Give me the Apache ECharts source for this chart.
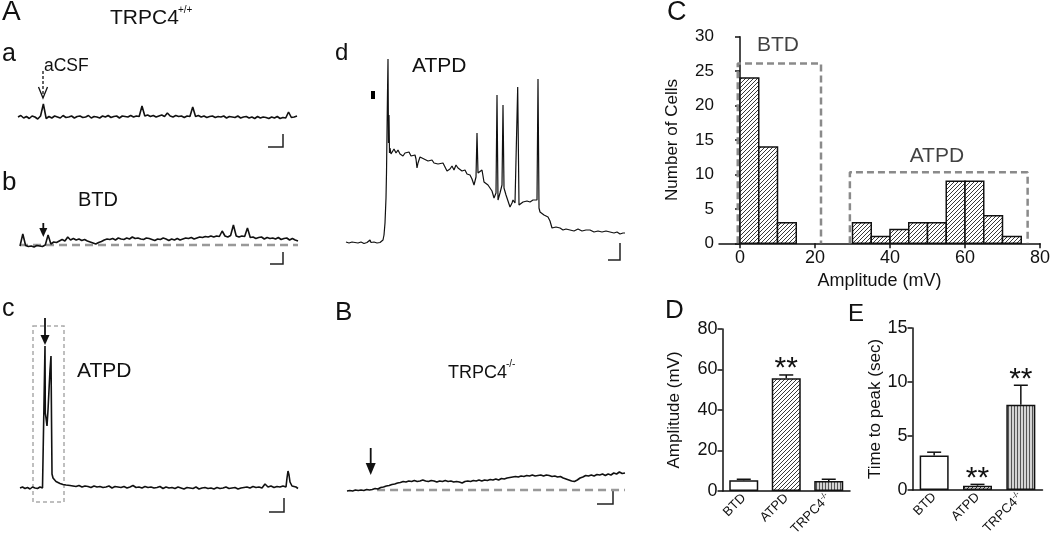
<!DOCTYPE html>
<html><head><meta charset="utf-8">
<script src="https://cdn.jsdelivr.net/npm/echarts@6/dist/echarts.min.js"></script>
<style>html,body{margin:0;padding:0;background:#fff}#c{width:1050px;height:540px}</style>
</head><body><div id="c"></div>
<script>
const FF = '"Liberation Sans", Arial, Helvetica, sans-serif';

// ---------------- DATA ----------------
// Trace a (aCSF, TRPC4+/+), relative potential, uniform samples
const traceA = [
0,1.5,-1,0.5,-1.5,1,0,-2,1,13,
-1.5,0.5,-1,1,0,-1,1.5,-0.5,0,1,
-1,0.5,1,-0.5,0,1.5,-1,0.5,0,-1,
1,0,1.5,-0.5,0.5,1,-1,1,0.5,0,
1.5,0,1,0.5,11,1,2,0.5,1.5,0,
1,2,0.5,4,1,0,1.5,0.5,1,-0.5,
1,0.5,10,0.5,1.5,0,1,-0.5,0.5,1,
-0.5,0.5,0,1,-1,0.5,0,-0.5,1,-1,
0,0.5,-1,0,-1.5,0.5,-1,0,-0.5,-1.5,
0,-1,0.5,-1.5,-0.5,-1,5,-0.5,0,1];
// Trace b (BTD)
const traceB = [
0,12,0.5,-0.5,0,-1,0.5,0,-0.5,1,
11,2,4,3.5,5,6.5,5,9,6,7.5,
6,7,5.5,6.5,5,4,3,2,3.5,4.5,
6,7,6.5,7.5,6,8,7,6.5,8,7,
9,7.5,8,7,6.5,8,7.5,6.5,5.5,7,
6.5,8,7,5.5,7,6,7.5,6,7,8,
7.5,8.5,7,8,9,8.5,9.5,9,10,9,
10,9.5,15,10,9,10.5,21,10,9,10,
9.5,18,8.5,9,7.5,8.5,9,7,8.5,7.5,
8,7,8.5,6.5,7.5,8,6,7.5,6,5];
const baselineB = [[0,1],[99,1]];
// Trace c (ATPD, TRPC4+/+) [time, potential]
const traceC = [
[0,0],[2.5,1],[5,-0.5],[7.5,0.5],[10,-1],[12.5,1],[15,0],[17.5,-0.5],[20,1],[22.5,0],[24.5,0.5],
[25,142],[25.3,75],[26,70],[27,62],[28,78],[29,98],[30,118],[31,132],[31.5,70],[32,14],[33,10],[34,8],[36,6.5],[38,5],[40,4.5],[43,3.5],[46,3],[50,2.5],
[53,2],[56,1.5],[59,2.5],[62,1],[65,2],[68,1.5],[71,0.5],[74,2],[77,1],[80,1.5],
[83,0.5],[86,1],[89,2],[92,0],[95,1.5],[98,1],[101,0.5],[104,1.5],[107,0],[110,1],
[113,2.5],[116,0.5],[119,1],[122,0],[125,1.5],[128,0.5],[131,1],[134,0],[137,0.5],[140,1.5],
[143,-0.5],[146,1],[149,0],[152,0.5],[155,-0.5],[158,1],[161,0],[164,-1],[167,0.5],[170,0],
[173,-0.5],[176,1],[179,-1],[182,0],[185,0.5],[188,-0.5],[191,0],[194,-1],[197,0.5],[200,-0.5],
[203,0],[206,1],[209,-0.5],[212,0],[215,0.5],[218,-1],[221,0],[224,0.5],[227,1],[230,0],
[233,1.5],[236,0.5],[239,1],[242,0],[245,4],[248,1],[251,2],[254,0.5],[257,1.5],[260,1],
[263,2],[266,1],[267,10],[268,17],[269,13],[270,6],[271,8],[272,2],[274,0],[276,1],[278,-0.5]];
// Trace d (ATPD with spikes) [time, potential]
const traceD = [
[0,1],[3,0],[6,1],[9,0.5],[12,0],[15,1],[18,-0.5],[21,0.5],[24,3],[25,0.5],[28,1],[31,0],[34,0.5],[36,1],
[37,3],[38,8],[39,20],[40,45],[40.5,70],[41,110],[41.5,150],[42,184],[42.5,100],[43,128],[43.5,90],[44,95],[45,89],
[46,91],[48,94],[50,90],[52,93],[54,89],[56,91],[57,87],[59,90],[61,88],[63,91],[65,87],[67,86],[69,88],[70,84],
[71,75],[72,80],[74,86],[76,88],[78,84],[80,86],[82,82],[84,81],[86,83],[88,80],[90,82],[92,79],[94,81],[97,80],
[99,76],[101,72],[102,70],[104,74],[106,77],[108,73],[110,78],[112,75],[114,76],[116,72],[117,70],[119,73],[121,69],
[124,68],[126,64],[128,58],[130,66],[131,110],[132,70],[134,72],[136,73],[138,61],[140,63],[142,58],[144,55],[146,52],
[148,45],[150,50],[151,148],[152,43],[154,50],[156,58],[157,138],[158,55],[160,48],[162,42],[164,36],[166,40],[167,43],
[169,40],[171,41],[171.7,156],[173,38],[175,40],[177,41],[179,40],[181,42],[184,41],[187,43],[189,42],[191,43],[192,164],
[193,35],[194,31],[196,30],[198,28],[200,27],[202,26],[204,22],[206,15],[208,17],[210,16],[212,14],[214,15],[217,13],
[220,14],[224,13],[228,12],[232,14],[236,12],[240,13],[244,13],[248,11],[252,12],[256,11],[260,12],[264,11],[268,10],
[271,11],[274,9],[277,10],[279,10]];
// Trace B (TRPC4-/-)
const traceKO = [
0,0.5,0,1,0.5,1,0.5,1.5,1,1.5,
2.5,2,3.5,4,5,5.5,6.5,7,8,8.5,
9.5,9,10,9.5,10.5,9.5,10,11,10,9.5,
10.5,10,9,10,9.5,10.5,9.5,10,9,9.5,
9,8,9.5,10,9.5,10.5,10,11,10,11,
10.5,11.5,11,12,11,12.5,12,13,13.5,14,
14.5,14,15,14.5,15.5,15,16,15,15.5,16,
15,16,15.5,14.5,15,14,14.5,13,12,11,
10,9.5,11,13,14,15.5,15,16,15,16.5,
16,17,15.5,17,16,18,17,19,17.5,18];
const baselineKO = [[10.7,1],[99,1]];

// Histogram (panel C)
const histBinStart = [0,5,10,30,35,40,45,50,55,60,65,70];
const histCounts   = [24,14,3,3,1,2,3,3,9,9,4,1];
const binWidth = 5;
const histXTicks = [0,20,40,60,80];
const btdBox  = [[-0.6,0],[-0.6,26.1],[21.6,26.1],[21.6,0]];
const atpdBox = [[29.3,0],[29.3,10.3],[76.7,10.3],[76.7,0]];
const histLabels = [{name:'BTD', value:[10.1,28.7]},{name:'ATPD', value:[52.5,12.7]}];

// Panels D and E
const groups  = ['BTD','ATPD','TRPC4-/-'];
const ampMean = [5.3, 55.7, 5.0];
const ampSem  = [0.5, 1.6, 0.8];
const ampSig  = ['', '**', ''];
const ttpMean = [3.2, 0.4, 7.9];
const ttpSem  = [0.3, 0.12, 1.8];
const ttpSig  = ['', '**', '**'];

// ---------------- PATTERNS ----------------
function hatchCanvas(){
  const c=document.createElement('canvas'); c.width=4; c.height=4;
  const g=c.getContext('2d'); g.fillStyle='#fff'; g.fillRect(0,0,4,4);
  g.strokeStyle='#222'; g.lineWidth=0.9; g.beginPath();
  g.moveTo(0,4); g.lineTo(4,0); g.moveTo(-1,1); g.lineTo(1,-1); g.moveTo(3,5); g.lineTo(5,3);
  g.stroke(); return c;
}
function stripeCanvas(){
  const c=document.createElement('canvas'); c.width=3; c.height=3;
  const g=c.getContext('2d'); g.fillStyle='#d4d4d4'; g.fillRect(0,0,3,3);
  g.fillStyle='#555'; g.fillRect(0,0,1,3); return c;
}
const HATCH = {image: hatchCanvas(), repeat:'repeat'};
const STRIPE = {image: stripeCanvas(), repeat:'repeat'};
const barFills = ['#ffffff', HATCH, STRIPE];

// ---------------- CHART ----------------
const INK = '#111';
const chart = echarts.init(document.getElementById('c'), null, {renderer:'canvas'});
const traceGrids = [
  {left:18, top:88, width:279, height:40},
  {left:20, top:216, width:278, height:40},
  {left:20, top:330, width:278, height:170},
  {left:346, top:50, width:279, height:210},
  {left:347, top:440, width:278, height:70}
];
const traceX = [[0,99],[0,99],[0,278],[0,279],[0,99]];
const traceY = [[-11,29],[-10,30],[-12,158],[-17,193],[-19,51]];

const grids = traceGrids.concat([
  {left:719, top:36.7, width:321, height:206.6},
  {left:722.5, top:329, width:127.5, height:162},
  {left:912.5, top:328, width:130, height:162}
]).map(g=>Object.assign({containLabel:false, outerBoundsMode:'none', show:false}, g));

const xAxes = [], yAxes = [];
traceX.forEach((r,i)=>{
  xAxes.push({type:'value', gridIndex:i, min:r[0], max:r[1], show:false});
  yAxes.push({type:'value', gridIndex:i, min:traceY[i][0], max:traceY[i][1], show:false});
});
const axLine = {show:true, lineStyle:{color:INK, width:1.5}};
const axTick = {show:true, length:5, lineStyle:{color:INK, width:1.5}};
const splitNo = {show:false};
// histogram axes
xAxes.push({type:'value', gridIndex:5, min:-5.6, max:80, axisLine:axLine,
  axisTick:Object.assign({customValues:histXTicks}, axTick), splitLine:splitNo,
  axisLabel:{customValues:histXTicks, fontFamily:FF, fontSize:18, color:INK, margin:6},
  name:'Amplitude (mV)', nameLocation:'middle', nameGap:29, nameTextStyle:{fontFamily:FF, fontSize:18, color:INK}});
yAxes.push({type:'value', gridIndex:5, min:0, max:30, interval:5, axisLine:axLine, axisTick:axTick, splitLine:splitNo,
  axisLabel:{fontFamily:FF, fontSize:17, color:INK, margin:5},
  name:'Number of Cells', nameLocation:'middle', nameGap:38, nameTextStyle:{fontFamily:FF, fontSize:17, color:INK}});
// D / E axes
const catLabel = {rotate:45, interval:0, margin:5, fontFamily:FF, color:INK,
  formatter: v => v==='TRPC4-/-' ? '{m|TRPC4}{s|-/-}' : '{m|'+v+'}',
  rich:{m:{fontFamily:FF, fontSize:13, color:INK}, s:{fontFamily:FF, fontSize:8, color:INK, padding:[0,0,7,0]}}};
[6,7].forEach(gi=>{
  xAxes.push({type:'category', gridIndex:gi, data:groups, boundaryGap:true, axisLine:axLine,
    axisTick:{show:false}, axisLabel:catLabel, splitLine:splitNo});
});
yAxes.push({type:'value', gridIndex:6, min:0, max:80, interval:20, axisLine:axLine, axisTick:axTick, splitLine:splitNo,
  axisLabel:{fontFamily:FF, fontSize:18, color:INK, margin:5},
  name:'Amplitude (mV)', nameLocation:'middle', nameGap:40, nameTextStyle:{fontFamily:FF, fontSize:17, color:INK}});
yAxes.push({type:'value', gridIndex:7, min:0, max:15, interval:5, axisLine:axLine, axisTick:axTick, splitLine:splitNo,
  axisLabel:{fontFamily:FF, fontSize:18, color:INK, margin:5},
  name:'Time to peak (sec)', nameLocation:'middle', nameGap:28, nameTextStyle:{fontFamily:FF, fontSize:17, color:INK}});

function traceSeries(idx, data, w){
  return {type:'line', xAxisIndex:idx, yAxisIndex:idx, data:data, showSymbol:false, symbol:'none',
    lineStyle:{color:INK, width:w||1.6}, silent:true, z:3, animation:false};
}
function dashSeries(idx, data, color, width, dash){
  return {type:'line', xAxisIndex:idx, yAxisIndex:idx, data:data, showSymbol:false, symbol:'none',
    lineStyle:{color:color, width:width, type:dash}, silent:true, z:2, animation:false};
}
function errSeries(gi, means, sems, sig){
  return {type:'custom', xAxisIndex:gi, yAxisIndex:gi, z:5, silent:true, animation:false,
    data: means.map((m,i)=>[i, m, sems[i]]),
    renderItem(params, api){
      const i=api.value(0), m=api.value(1), e=api.value(2);
      const base=api.coord([i,m]), top=api.coord([i,m+e]);
      const ch=[
        {type:'line', shape:{x1:base[0], y1:base[1], x2:top[0], y2:top[1]}, style:{stroke:INK, lineWidth:1.5}},
        {type:'line', shape:{x1:top[0]-7, y1:top[1], x2:top[0]+7, y2:top[1]}, style:{stroke:INK, lineWidth:1.5}}
      ];
      if (sig[params.dataIndex]) ch.push({type:'text', x:top[0], y:top[1]+9,
        style:{text:sig[params.dataIndex], font:'30px '+FF, fill:INK, align:'center', verticalAlign:'bottom', textAlign:'center', textVerticalAlign:'bottom'}});
      return {type:'group', children:ch};
    }};
}
function barSeries(gi, means){
  return {type:'bar', xAxisIndex:gi, yAxisIndex:gi, barWidth:29, silent:true, animation:false, z:3,
    data: means.map((m,i)=>({value:m, itemStyle:{color:barFills[i], borderColor:INK, borderWidth:1.5}}))};
}

const series = [
  traceSeries(0, traceA.map((v,i)=>[i,v])),
  dashSeries(1, baselineB, '#999', 2.5, [8,5]),
  traceSeries(1, traceB.map((v,i)=>[i,v])),
  traceSeries(2, traceC),
  traceSeries(3, traceD, 1.2),
  dashSeries(4, baselineKO, '#999', 2.5, [8,5]),
  traceSeries(4, traceKO.map((v,i)=>[i,v])),
  // histogram
  {type:'custom', xAxisIndex:5, yAxisIndex:5, z:3, silent:true, animation:false,
   encode:{x:[0,1], y:2},
   data: histBinStart.map((s,i)=>[s, s+binWidth, histCounts[i]]),
   renderItem(params, api){
     const p0=api.coord([api.value(0), api.value(2)]), p1=api.coord([api.value(1), 0]);
     return {type:'rect', shape:{x:p0[0], y:p0[1], width:p1[0]-p0[0], height:p1[1]-p0[1]},
       style:{fill:HATCH, stroke:INK, lineWidth:1.5}};
   }},
  dashSeries(5, btdBox, '#8a8a8a', 2.5, [7,4]),
  dashSeries(5, atpdBox, '#8a8a8a', 2.5, [7,4]),
  {type:'scatter', xAxisIndex:5, yAxisIndex:5, symbolSize:0, silent:true, animation:false, data:histLabels,
   label:{show:true, position:'inside', formatter:'{b}', fontFamily:FF, fontSize:21, color:INK}},
  barSeries(6, ampMean), errSeries(6, ampMean, ampSem, ampSig),
  barSeries(7, ttpMean), errSeries(7, ttpMean, ttpSem, ttpSig)
];

function T(text, x, y, size, extra){
  return Object.assign({type:'text', x:x, y:y, silent:true,
    style:{text:text, font:size+'px '+FF, fill:INK, align:'left', verticalAlign:'middle', textAlign:'left', textVerticalAlign:'middle'}}, extra||{});
}
function solidArrow(x, y0, yh, tip, hw){
  return [
    {type:'line', shape:{x1:x, y1:y0, x2:x, y2:yh+1}, style:{stroke:INK, lineWidth:1.8}},
    {type:'polygon', shape:{points:[[x-hw,yh],[x+hw,yh],[x,tip]]}, style:{fill:INK}}
  ];
}
function scaleBar(x0, x1, y1, y0){
  return {type:'polyline', shape:{points:[[x0,y1],[x1,y1],[x1,y0]]}, style:{stroke:'#222', lineWidth:1.5, fill:null}};
}
const graphics = [
  T('A', 2, 12.5, 28), T('TRPC4', 110, 18.5, 21), T('+/+', 178, 10, 10),
  T('a', 2, 54, 25), T('aCSF', 44, 66, 17.5),
  T('b', 2, 182.5, 26), T('BTD', 78, 200, 20),
  T('c', 2, 309, 25), T('ATPD', 77, 371, 21),
  T('d', 335, 53.5, 24), T('ATPD', 412, 66.5, 21),
  T('B', 335, 312.5, 26), T('TRPC4', 448, 373, 18), T('-/-', 506, 364, 10),
  T('C', 667, 13, 27), T('D', 665, 311, 26), T('E', 848, 314, 24),
  // aCSF dashed arrow
  {type:'line', shape:{x1:43, y1:71, x2:43, y2:97}, style:{stroke:INK, lineWidth:1.3, lineDash:[3,2]}},
  {type:'polyline', shape:{points:[[38.5,87],[43,98],[47.5,87]]}, style:{stroke:INK, lineWidth:1.3, fill:null}},
  ...solidArrow(43.3, 223, 228, 237, 4),
  ...solidArrow(45, 318, 335, 345, 4.5),
  ...solidArrow(370.7, 448, 463, 475, 5),
  // dashed box in c
  {type:'rect', shape:{x:33, y:326, width:31, height:176}, style:{stroke:'#aaa', lineWidth:1.5, lineDash:[4,3], fill:null}},
  // application mark in d
  {type:'rect', shape:{x:371, y:91, width:4, height:8}, style:{fill:'#000'}},
  // scale bars
  scaleBar(268, 283, 147, 134), scaleBar(270, 283, 264, 252), scaleBar(269, 284, 512, 498),
  scaleBar(608, 620, 260, 243), scaleBar(597, 613, 504, 490)
];

chart.setOption({
  animation:false, backgroundColor:'#fff',
  grid:grids, xAxis:xAxes, yAxis:yAxes, series:series,
  graphic:{elements:graphics}
});
</script></body></html>
